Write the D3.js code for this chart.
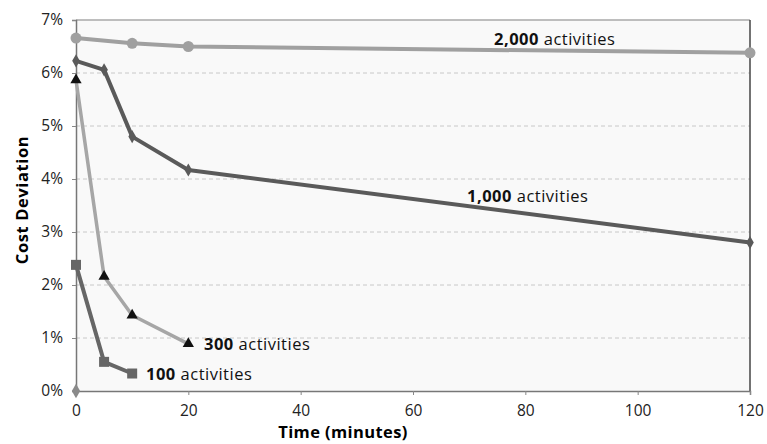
<!DOCTYPE html>
<html>
<head>
<meta charset="utf-8">
<script src="https://cdn.jsdelivr.net/npm/d3@7"></script>
<style>
  body { margin: 0; background: #fff; }
  text { font-family: "Open Sans", "Noto Sans", sans-serif; }
</style>
</head>
<body>
<div id="grafico"></div>
<script>
// Time (minutes) and cost deviation (%)
const times2000 = [0, 10, 20, 120];
const dev2000 = [6.66, 6.56, 6.5, 6.38];
const times1000 = [0, 5, 10, 20, 120];
const dev1000 = [6.23, 6.06, 4.8, 4.17, 2.8];
const times300 = [0, 5, 10, 20];
const dev300 = [5.87, 2.16, 1.43, 0.89];
const times100 = [0, 5, 10];
const dev100 = [2.38, 0.55, 0.33];
const originTime = [0];
const originDev = [0];

const xTicks = [0, 20, 40, 60, 80, 100, 120];
const yTicks = [0, 1, 2, 3, 4, 5, 6, 7];
const labels = ["2,000", "1,000", "300", "100"];

const width = 767;
const height = 444;
const margin = { left: 76, right: 17, top: 20, bottom: 53 };

const svg = d3.select('#grafico')
    .append('svg')
    .attr('width', width)
    .attr('height', height);

const xScale = d3.scaleLinear()
    .domain([0, 120])
    .range([margin.left, width - margin.right]);

const yScale = d3.scaleLinear()
    .domain([0, 7])
    .range([height - margin.bottom, margin.top]);

// fondo del area del grafico
svg.append('rect')
    .attr('x', xScale(0))
    .attr('y', yScale(7))
    .attr('width', xScale(120) - xScale(0))
    .attr('height', yScale(0) - yScale(7))
    .attr('fill', '#f9f9f9');

// lineas de grilla punteadas
svg.append('g')
    .selectAll('line')
    .data(yTicks.filter(d => d > 0 && d < 7))
    .enter()
    .append('line')
    .attr('x1', xScale(0))
    .attr('x2', xScale(120))
    .attr('y1', d => yScale(d))
    .attr('y2', d => yScale(d))
    .attr('stroke', '#c8c8c8')
    .attr('stroke-width', 1)
    .attr('stroke-dasharray', '4,3');

// borde superior
svg.append('line')
    .attr('x1', xScale(0))
    .attr('x2', xScale(120))
    .attr('y1', yScale(7))
    .attr('y2', yScale(7))
    .attr('stroke', '#a8a8a8')
    .attr('stroke-width', 1.5);

// borde derecho
svg.append('line')
    .attr('x1', xScale(120))
    .attr('x2', xScale(120))
    .attr('y1', yScale(7))
    .attr('y2', yScale(0))
    .attr('stroke', '#444')
    .attr('stroke-width', 1.5);

const xAxis = d3.axisBottom(xScale)
    .tickValues(xTicks)
    .tickSize(4)
    .tickPadding(10);

const yAxis = d3.axisLeft(yScale)
    .tickValues(yTicks)
    .tickFormat(d => d + '%')
    .tickSize(4)
    .tickPadding(9);

const gx = svg.append('g')
    .attr('transform', `translate(0, ${yScale(0)})`)
    .call(xAxis);

const gy = svg.append('g')
    .attr('transform', `translate(${xScale(0)}, 0)`)
    .call(yAxis);

[gx, gy].forEach(g => {
    g.select('.domain').attr('stroke', '#777').attr('stroke-width', 1.5);
    g.selectAll('.tick line').attr('stroke', '#888');
    g.selectAll('.tick text')
        .attr('fill', '#222')
        .style('font-size', '15.5px');
});

// titulos de ejes
svg.append('text')
    .attr('transform', `translate(28, 200) rotate(-90)`)
    .attr('text-anchor', 'middle')
    .style('font-size', '16.5px')
    .style('font-weight', 'bold')
    .style('letter-spacing', '0.6px')
    .text('Cost Deviation');

svg.append('text')
    .attr('x', 343)
    .attr('y', 438)
    .attr('text-anchor', 'middle')
    .style('font-size', '16.5px')
    .style('font-weight', 'bold')
    .style('letter-spacing', '0.4px')
    .text('Time (minutes)');

const line = d3.line()
    .x(d => xScale(d[0]))
    .y(d => yScale(d[1]));

function drawSeries(times, devs, color, widthLine) {
    const pts = d3.zip(times, devs);
    svg.append('path')
        .datum(pts)
        .attr('d', line)
        .attr('fill', 'none')
        .attr('stroke', color)
        .attr('stroke-width', widthLine)
        .attr('stroke-linejoin', 'round');
    return pts;
}

// 2,000 actividades
const p2000 = drawSeries(times2000, dev2000, '#a0a0a0', 4);
svg.append('g').selectAll('circle')
    .data(p2000)
    .enter()
    .append('circle')
    .attr('cx', d => xScale(d[0]))
    .attr('cy', d => yScale(d[1]))
    .attr('r', 5.5)
    .attr('fill', '#a0a0a0');

// 1,000 actividades
const p1000 = drawSeries(times1000, dev1000, '#5a5a5a', 4);
svg.append('g').selectAll('path')
    .data(p1000)
    .enter()
    .append('path')
    .attr('transform', d => `translate(${xScale(d[0])}, ${yScale(d[1])})`)
    .attr('d', d3.symbol(d3.symbolDiamond, 50))
    .attr('fill', '#5a5a5a');

// 300 actividades
const p300 = drawSeries(times300, dev300, '#a6a6a6', 3.5);
svg.append('g').selectAll('path')
    .data(p300)
    .enter()
    .append('path')
    .attr('transform', d => `translate(${xScale(d[0])}, ${yScale(d[1])})`)
    .attr('d', d3.symbol(d3.symbolTriangle, 55))
    .attr('fill', '#111');

// 100 actividades
const p100 = drawSeries(times100, dev100, '#666', 4);
svg.append('g').selectAll('rect')
    .data(p100)
    .enter()
    .append('rect')
    .attr('x', d => xScale(d[0]) - 5)
    .attr('y', d => yScale(d[1]) - 5)
    .attr('width', 10)
    .attr('height', 10)
    .attr('fill', '#666');

// marcador en el origen
svg.append('g').selectAll('path')
    .data(d3.zip(originTime, originDev))
    .enter()
    .append('path')
    .attr('transform', d => `translate(${xScale(d[0])}, ${yScale(d[1])})`)
    .attr('d', d3.symbol(d3.symbolDiamond, 60))
    .attr('fill', '#8a8a8a');

// etiquetas de series
const labelPos = [[494, 45], [467, 202], [204, 350], [146, 380]];
labels.forEach((lab, i) => {
    const t = svg.append('text')
        .attr('x', labelPos[i][0])
        .attr('y', labelPos[i][1])
        .style('font-size', '16.5px')
        .style('letter-spacing', '0.5px')
        .attr('fill', '#111');
    t.append('tspan').style('font-weight', 'bold').text(lab);
    t.append('tspan').text(' activities');
});
</script>
</body>
</html>
